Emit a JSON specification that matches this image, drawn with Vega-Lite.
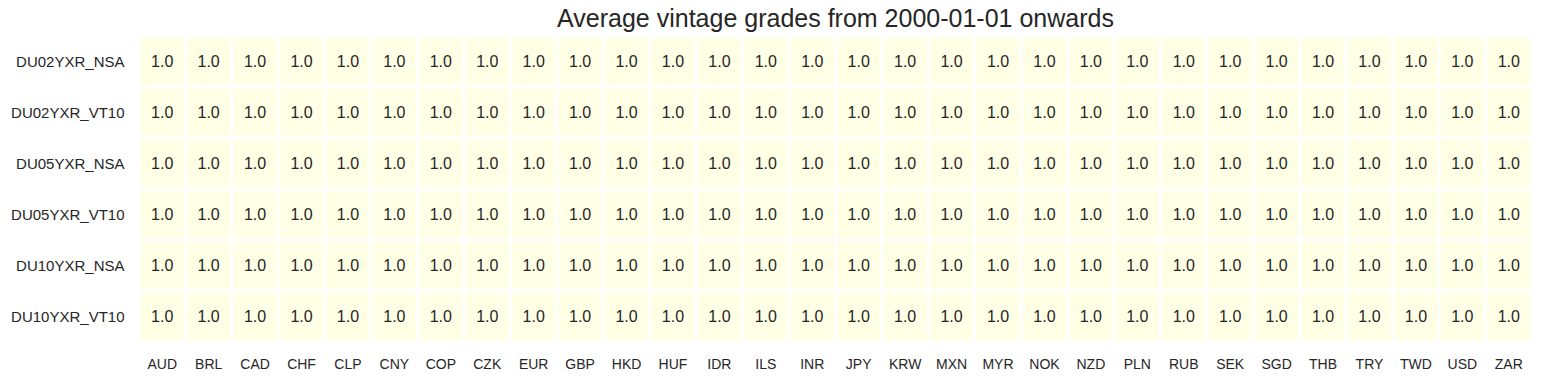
{
  "$schema": "https://vega.github.io/schema/vega-lite/v6.json",
  "width": 1393,
  "height": 306,
  "autosize": {"type": "none"},
  "padding": {"left": 139, "top": 36, "right": 11, "bottom": 39},
  "background": "white",
  "config": {"view": {"stroke": null}, "font": "Liberation Sans"},
  "title": {"text": "Average vintage grades from 2000-01-01 onwards", "fontSize": 25, "fontWeight": "normal", "color": "#262626", "font": "Liberation Sans", "offset": 3, "anchor": "middle"},
  "data": {"values": [
    {"xcat":"DU02YXR_NSA","cid":"AUD","v":1.0},{"xcat":"DU02YXR_NSA","cid":"BRL","v":1.0},{"xcat":"DU02YXR_NSA","cid":"CAD","v":1.0},{"xcat":"DU02YXR_NSA","cid":"CHF","v":1.0},{"xcat":"DU02YXR_NSA","cid":"CLP","v":1.0},{"xcat":"DU02YXR_NSA","cid":"CNY","v":1.0},{"xcat":"DU02YXR_NSA","cid":"COP","v":1.0},{"xcat":"DU02YXR_NSA","cid":"CZK","v":1.0},{"xcat":"DU02YXR_NSA","cid":"EUR","v":1.0},{"xcat":"DU02YXR_NSA","cid":"GBP","v":1.0},{"xcat":"DU02YXR_NSA","cid":"HKD","v":1.0},{"xcat":"DU02YXR_NSA","cid":"HUF","v":1.0},{"xcat":"DU02YXR_NSA","cid":"IDR","v":1.0},{"xcat":"DU02YXR_NSA","cid":"ILS","v":1.0},{"xcat":"DU02YXR_NSA","cid":"INR","v":1.0},{"xcat":"DU02YXR_NSA","cid":"JPY","v":1.0},{"xcat":"DU02YXR_NSA","cid":"KRW","v":1.0},{"xcat":"DU02YXR_NSA","cid":"MXN","v":1.0},{"xcat":"DU02YXR_NSA","cid":"MYR","v":1.0},{"xcat":"DU02YXR_NSA","cid":"NOK","v":1.0},{"xcat":"DU02YXR_NSA","cid":"NZD","v":1.0},{"xcat":"DU02YXR_NSA","cid":"PLN","v":1.0},{"xcat":"DU02YXR_NSA","cid":"RUB","v":1.0},{"xcat":"DU02YXR_NSA","cid":"SEK","v":1.0},{"xcat":"DU02YXR_NSA","cid":"SGD","v":1.0},{"xcat":"DU02YXR_NSA","cid":"THB","v":1.0},{"xcat":"DU02YXR_NSA","cid":"TRY","v":1.0},{"xcat":"DU02YXR_NSA","cid":"TWD","v":1.0},{"xcat":"DU02YXR_NSA","cid":"USD","v":1.0},{"xcat":"DU02YXR_NSA","cid":"ZAR","v":1.0},
    {"xcat":"DU02YXR_VT10","cid":"AUD","v":1.0},{"xcat":"DU02YXR_VT10","cid":"BRL","v":1.0},{"xcat":"DU02YXR_VT10","cid":"CAD","v":1.0},{"xcat":"DU02YXR_VT10","cid":"CHF","v":1.0},{"xcat":"DU02YXR_VT10","cid":"CLP","v":1.0},{"xcat":"DU02YXR_VT10","cid":"CNY","v":1.0},{"xcat":"DU02YXR_VT10","cid":"COP","v":1.0},{"xcat":"DU02YXR_VT10","cid":"CZK","v":1.0},{"xcat":"DU02YXR_VT10","cid":"EUR","v":1.0},{"xcat":"DU02YXR_VT10","cid":"GBP","v":1.0},{"xcat":"DU02YXR_VT10","cid":"HKD","v":1.0},{"xcat":"DU02YXR_VT10","cid":"HUF","v":1.0},{"xcat":"DU02YXR_VT10","cid":"IDR","v":1.0},{"xcat":"DU02YXR_VT10","cid":"ILS","v":1.0},{"xcat":"DU02YXR_VT10","cid":"INR","v":1.0},{"xcat":"DU02YXR_VT10","cid":"JPY","v":1.0},{"xcat":"DU02YXR_VT10","cid":"KRW","v":1.0},{"xcat":"DU02YXR_VT10","cid":"MXN","v":1.0},{"xcat":"DU02YXR_VT10","cid":"MYR","v":1.0},{"xcat":"DU02YXR_VT10","cid":"NOK","v":1.0},{"xcat":"DU02YXR_VT10","cid":"NZD","v":1.0},{"xcat":"DU02YXR_VT10","cid":"PLN","v":1.0},{"xcat":"DU02YXR_VT10","cid":"RUB","v":1.0},{"xcat":"DU02YXR_VT10","cid":"SEK","v":1.0},{"xcat":"DU02YXR_VT10","cid":"SGD","v":1.0},{"xcat":"DU02YXR_VT10","cid":"THB","v":1.0},{"xcat":"DU02YXR_VT10","cid":"TRY","v":1.0},{"xcat":"DU02YXR_VT10","cid":"TWD","v":1.0},{"xcat":"DU02YXR_VT10","cid":"USD","v":1.0},{"xcat":"DU02YXR_VT10","cid":"ZAR","v":1.0},
    {"xcat":"DU05YXR_NSA","cid":"AUD","v":1.0},{"xcat":"DU05YXR_NSA","cid":"BRL","v":1.0},{"xcat":"DU05YXR_NSA","cid":"CAD","v":1.0},{"xcat":"DU05YXR_NSA","cid":"CHF","v":1.0},{"xcat":"DU05YXR_NSA","cid":"CLP","v":1.0},{"xcat":"DU05YXR_NSA","cid":"CNY","v":1.0},{"xcat":"DU05YXR_NSA","cid":"COP","v":1.0},{"xcat":"DU05YXR_NSA","cid":"CZK","v":1.0},{"xcat":"DU05YXR_NSA","cid":"EUR","v":1.0},{"xcat":"DU05YXR_NSA","cid":"GBP","v":1.0},{"xcat":"DU05YXR_NSA","cid":"HKD","v":1.0},{"xcat":"DU05YXR_NSA","cid":"HUF","v":1.0},{"xcat":"DU05YXR_NSA","cid":"IDR","v":1.0},{"xcat":"DU05YXR_NSA","cid":"ILS","v":1.0},{"xcat":"DU05YXR_NSA","cid":"INR","v":1.0},{"xcat":"DU05YXR_NSA","cid":"JPY","v":1.0},{"xcat":"DU05YXR_NSA","cid":"KRW","v":1.0},{"xcat":"DU05YXR_NSA","cid":"MXN","v":1.0},{"xcat":"DU05YXR_NSA","cid":"MYR","v":1.0},{"xcat":"DU05YXR_NSA","cid":"NOK","v":1.0},{"xcat":"DU05YXR_NSA","cid":"NZD","v":1.0},{"xcat":"DU05YXR_NSA","cid":"PLN","v":1.0},{"xcat":"DU05YXR_NSA","cid":"RUB","v":1.0},{"xcat":"DU05YXR_NSA","cid":"SEK","v":1.0},{"xcat":"DU05YXR_NSA","cid":"SGD","v":1.0},{"xcat":"DU05YXR_NSA","cid":"THB","v":1.0},{"xcat":"DU05YXR_NSA","cid":"TRY","v":1.0},{"xcat":"DU05YXR_NSA","cid":"TWD","v":1.0},{"xcat":"DU05YXR_NSA","cid":"USD","v":1.0},{"xcat":"DU05YXR_NSA","cid":"ZAR","v":1.0},
    {"xcat":"DU05YXR_VT10","cid":"AUD","v":1.0},{"xcat":"DU05YXR_VT10","cid":"BRL","v":1.0},{"xcat":"DU05YXR_VT10","cid":"CAD","v":1.0},{"xcat":"DU05YXR_VT10","cid":"CHF","v":1.0},{"xcat":"DU05YXR_VT10","cid":"CLP","v":1.0},{"xcat":"DU05YXR_VT10","cid":"CNY","v":1.0},{"xcat":"DU05YXR_VT10","cid":"COP","v":1.0},{"xcat":"DU05YXR_VT10","cid":"CZK","v":1.0},{"xcat":"DU05YXR_VT10","cid":"EUR","v":1.0},{"xcat":"DU05YXR_VT10","cid":"GBP","v":1.0},{"xcat":"DU05YXR_VT10","cid":"HKD","v":1.0},{"xcat":"DU05YXR_VT10","cid":"HUF","v":1.0},{"xcat":"DU05YXR_VT10","cid":"IDR","v":1.0},{"xcat":"DU05YXR_VT10","cid":"ILS","v":1.0},{"xcat":"DU05YXR_VT10","cid":"INR","v":1.0},{"xcat":"DU05YXR_VT10","cid":"JPY","v":1.0},{"xcat":"DU05YXR_VT10","cid":"KRW","v":1.0},{"xcat":"DU05YXR_VT10","cid":"MXN","v":1.0},{"xcat":"DU05YXR_VT10","cid":"MYR","v":1.0},{"xcat":"DU05YXR_VT10","cid":"NOK","v":1.0},{"xcat":"DU05YXR_VT10","cid":"NZD","v":1.0},{"xcat":"DU05YXR_VT10","cid":"PLN","v":1.0},{"xcat":"DU05YXR_VT10","cid":"RUB","v":1.0},{"xcat":"DU05YXR_VT10","cid":"SEK","v":1.0},{"xcat":"DU05YXR_VT10","cid":"SGD","v":1.0},{"xcat":"DU05YXR_VT10","cid":"THB","v":1.0},{"xcat":"DU05YXR_VT10","cid":"TRY","v":1.0},{"xcat":"DU05YXR_VT10","cid":"TWD","v":1.0},{"xcat":"DU05YXR_VT10","cid":"USD","v":1.0},{"xcat":"DU05YXR_VT10","cid":"ZAR","v":1.0},
    {"xcat":"DU10YXR_NSA","cid":"AUD","v":1.0},{"xcat":"DU10YXR_NSA","cid":"BRL","v":1.0},{"xcat":"DU10YXR_NSA","cid":"CAD","v":1.0},{"xcat":"DU10YXR_NSA","cid":"CHF","v":1.0},{"xcat":"DU10YXR_NSA","cid":"CLP","v":1.0},{"xcat":"DU10YXR_NSA","cid":"CNY","v":1.0},{"xcat":"DU10YXR_NSA","cid":"COP","v":1.0},{"xcat":"DU10YXR_NSA","cid":"CZK","v":1.0},{"xcat":"DU10YXR_NSA","cid":"EUR","v":1.0},{"xcat":"DU10YXR_NSA","cid":"GBP","v":1.0},{"xcat":"DU10YXR_NSA","cid":"HKD","v":1.0},{"xcat":"DU10YXR_NSA","cid":"HUF","v":1.0},{"xcat":"DU10YXR_NSA","cid":"IDR","v":1.0},{"xcat":"DU10YXR_NSA","cid":"ILS","v":1.0},{"xcat":"DU10YXR_NSA","cid":"INR","v":1.0},{"xcat":"DU10YXR_NSA","cid":"JPY","v":1.0},{"xcat":"DU10YXR_NSA","cid":"KRW","v":1.0},{"xcat":"DU10YXR_NSA","cid":"MXN","v":1.0},{"xcat":"DU10YXR_NSA","cid":"MYR","v":1.0},{"xcat":"DU10YXR_NSA","cid":"NOK","v":1.0},{"xcat":"DU10YXR_NSA","cid":"NZD","v":1.0},{"xcat":"DU10YXR_NSA","cid":"PLN","v":1.0},{"xcat":"DU10YXR_NSA","cid":"RUB","v":1.0},{"xcat":"DU10YXR_NSA","cid":"SEK","v":1.0},{"xcat":"DU10YXR_NSA","cid":"SGD","v":1.0},{"xcat":"DU10YXR_NSA","cid":"THB","v":1.0},{"xcat":"DU10YXR_NSA","cid":"TRY","v":1.0},{"xcat":"DU10YXR_NSA","cid":"TWD","v":1.0},{"xcat":"DU10YXR_NSA","cid":"USD","v":1.0},{"xcat":"DU10YXR_NSA","cid":"ZAR","v":1.0},
    {"xcat":"DU10YXR_VT10","cid":"AUD","v":1.0},{"xcat":"DU10YXR_VT10","cid":"BRL","v":1.0},{"xcat":"DU10YXR_VT10","cid":"CAD","v":1.0},{"xcat":"DU10YXR_VT10","cid":"CHF","v":1.0},{"xcat":"DU10YXR_VT10","cid":"CLP","v":1.0},{"xcat":"DU10YXR_VT10","cid":"CNY","v":1.0},{"xcat":"DU10YXR_VT10","cid":"COP","v":1.0},{"xcat":"DU10YXR_VT10","cid":"CZK","v":1.0},{"xcat":"DU10YXR_VT10","cid":"EUR","v":1.0},{"xcat":"DU10YXR_VT10","cid":"GBP","v":1.0},{"xcat":"DU10YXR_VT10","cid":"HKD","v":1.0},{"xcat":"DU10YXR_VT10","cid":"HUF","v":1.0},{"xcat":"DU10YXR_VT10","cid":"IDR","v":1.0},{"xcat":"DU10YXR_VT10","cid":"ILS","v":1.0},{"xcat":"DU10YXR_VT10","cid":"INR","v":1.0},{"xcat":"DU10YXR_VT10","cid":"JPY","v":1.0},{"xcat":"DU10YXR_VT10","cid":"KRW","v":1.0},{"xcat":"DU10YXR_VT10","cid":"MXN","v":1.0},{"xcat":"DU10YXR_VT10","cid":"MYR","v":1.0},{"xcat":"DU10YXR_VT10","cid":"NOK","v":1.0},{"xcat":"DU10YXR_VT10","cid":"NZD","v":1.0},{"xcat":"DU10YXR_VT10","cid":"PLN","v":1.0},{"xcat":"DU10YXR_VT10","cid":"RUB","v":1.0},{"xcat":"DU10YXR_VT10","cid":"SEK","v":1.0},{"xcat":"DU10YXR_VT10","cid":"SGD","v":1.0},{"xcat":"DU10YXR_VT10","cid":"THB","v":1.0},{"xcat":"DU10YXR_VT10","cid":"TRY","v":1.0},{"xcat":"DU10YXR_VT10","cid":"TWD","v":1.0},{"xcat":"DU10YXR_VT10","cid":"USD","v":1.0},{"xcat":"DU10YXR_VT10","cid":"ZAR","v":1.0}
  ]},
  "encoding": {
    "x": {"field": "cid", "type": "nominal", "sort": null, "title": null,
      "axis": {"orient": "bottom", "domain": false, "ticks": false, "labelAngle": 0, "labelPadding": 15, "labelFontSize": 14, "labelColor": "#262626", "labelFont": "Liberation Sans"}},
    "y": {"field": "xcat", "type": "nominal", "sort": null, "title": null,
      "axis": {"domain": false, "ticks": false, "labelPadding": 15, "labelFontSize": 15, "labelColor": "#262626", "labelFont": "Liberation Sans"}}
  },
  "layer": [
    {"mark": {"type": "rect", "stroke": "white", "strokeWidth": 3},
     "encoding": {"color": {"field": "v", "type": "quantitative", "legend": null, "scale": {"domain": [0, 1], "range": ["#ffffe5", "#ffffe5"]}}}},
    {"mark": {"type": "text", "fontSize": 16, "color": "#262626", "font": "Liberation Sans"},
     "encoding": {"text": {"field": "v", "type": "quantitative", "format": ".1f"}}}
  ]
}
